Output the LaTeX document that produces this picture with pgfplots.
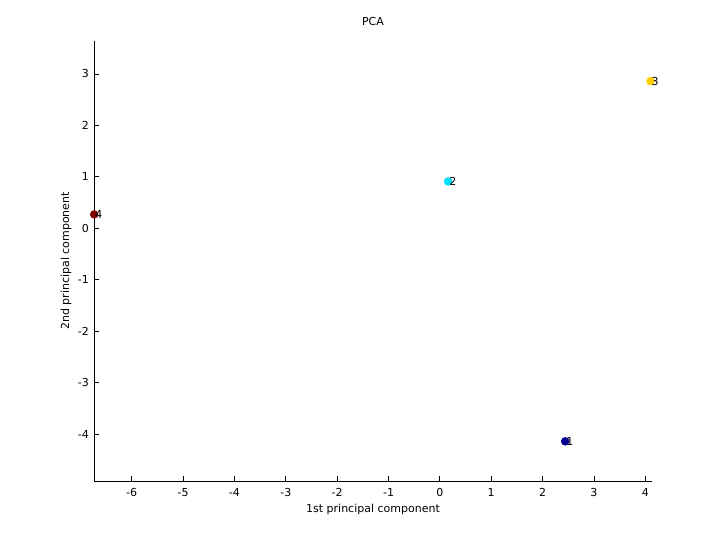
\documentclass[border=0pt]{standalone}
\usepackage{pgfplots}
\pgfplotsset{compat=1.18}
\usepackage{fontspec}
\setmainfont{DejaVu Sans}
\definecolor{jet1}{rgb}{0,0,0.5625}
\definecolor{jet2}{rgb}{0,0.875,1}
\definecolor{jet3}{rgb}{1,0.8125,0}
\definecolor{jet4}{rgb}{0.5,0,0}
\begin{document}
\begin{tikzpicture}[x=1pt,y=1pt]
\path[use as bounding box] (0,0) rectangle (720,540);
\begin{axis}[
    at={(94pt,59pt)}, anchor=south west,
    width=558pt, height=440pt, scale only axis,
    xmin=-6.734, xmax=4.13,
    ymin=-4.91, ymax=3.64,
    axis lines*=left,
    axis line style={line width=0.8pt},
    tick style={line width=0.8pt, black},
    tick align=inside,
    major tick length=5pt,
    xtick={-6,-5,...,4},
    ytick={-4,-3,...,3},
    font=\fontsize{11}{13}\selectfont,
    /pgf/number format/assume math mode=true,
    xticklabel style={yshift=-4pt},
    yticklabel style={xshift=-1.5pt},
    clip=false,
    title={PCA},
    title style={at={(axis description cs:0.5,1.0318)}, anchor=center},
    xlabel={1st principal component},
    xlabel style={at={(axis description cs:0.5,-0.0648)}, anchor=center},
    ylabel={2nd principal component},
    ylabel style={at={(axis description cs:-0.0502,0.5)}, anchor=center, rotate=0},
    every node near coord/.style={anchor=west, inner sep=0pt, xshift=1pt, font=\fontsize{11}{13}\selectfont, text=black},
    nodes near coords,
    point meta=explicit symbolic,
]
\addplot[only marks, mark=*, mark size=4pt, color=jet1] coordinates {(2.44,-4.14) [1]};
\addplot[only marks, mark=*, mark size=4pt, color=jet2] coordinates {(0.16,0.91) [2]};
\addplot[only marks, mark=*, mark size=4pt, color=jet3] coordinates {(4.10,2.86) [3]};
\addplot[only marks, mark=*, mark size=4pt, color=jet4] coordinates {(-6.73,0.27) [4]};
\end{axis}
\end{tikzpicture}
\end{document}
